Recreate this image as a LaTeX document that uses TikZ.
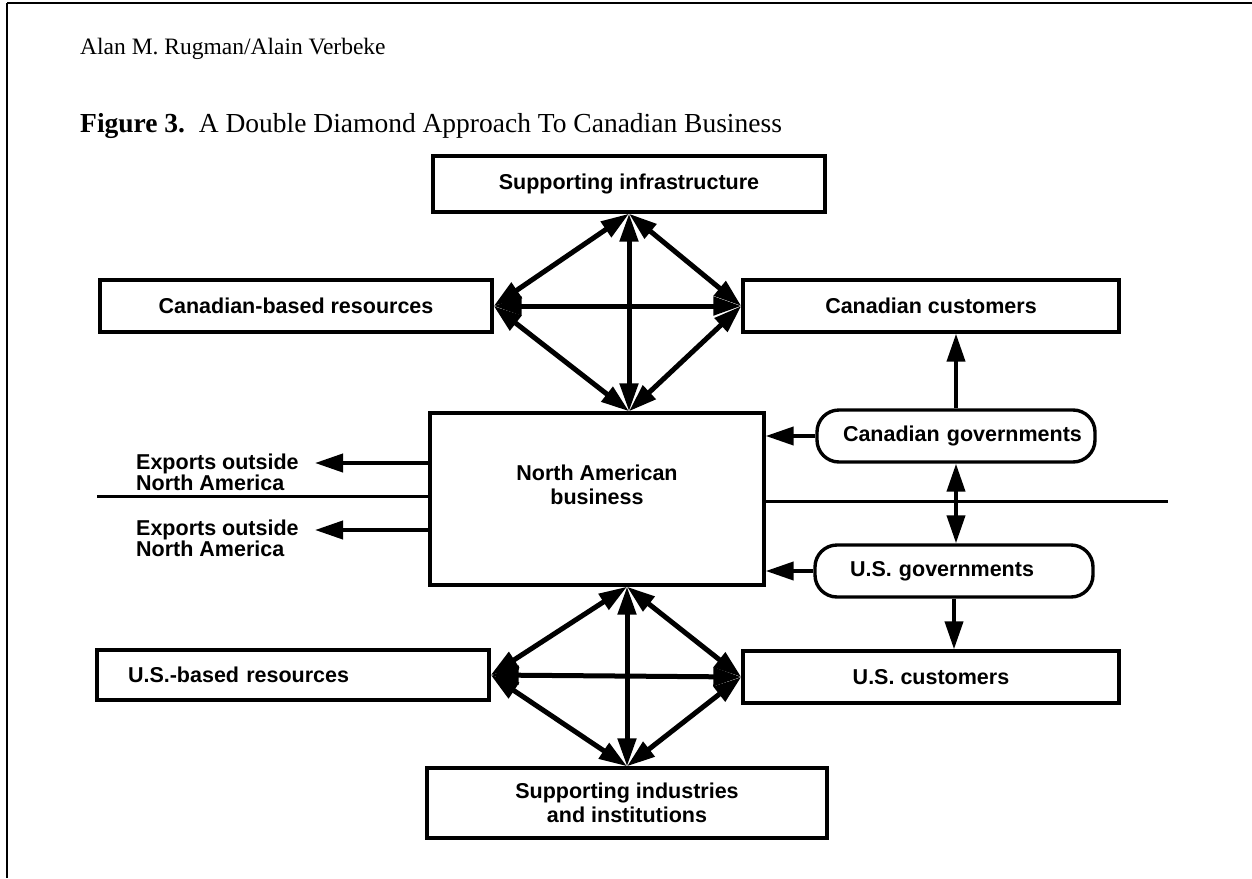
\documentclass[tikz,border=0pt]{standalone}
\usepackage{fontspec}
\setmainfont{Liberation Serif}
\newfontfamily\labfont{Liberation Sans}
\usetikzlibrary{arrows.meta,calc}
\tikzset{
  box/.style={draw, line width=3.4pt, inner sep=0pt, align=center,
    font=\labfont\bfseries\fontsize{21.5}{24}\selectfont},
  labtext/.style={inner sep=0pt, align=center,
    font=\labfont\bfseries\fontsize{21.5}{24}\selectfont},
  extext/.style={inner sep=0pt, align=left, anchor=west,
    font=\labfont\bfseries\fontsize{21.5}{21}\selectfont},
  gov/.style={box, rounded corners=22pt},
  darr/.style={line width=5pt, {Triangle[length=28pt,width=18pt]}-{Triangle[length=28pt,width=18pt]}},
  sarr/.style={line width=4pt, -{Triangle[length=28pt,width=18pt]}},
  sdarr/.style={line width=4pt, {Triangle[length=28pt,width=18pt]}-{Triangle[length=28pt,width=18pt]}},
  sepline/.style={line width=3pt},
}
\begin{document}
\begin{tikzpicture}[x=1pt,y=-1pt]
\useasboundingbox (0,0) rectangle (1252,878);
% page frame
\draw[line width=2pt] (7,3) -- (1252,3);
\draw[line width=1.6pt] (7,3) -- (7,878);
% header
\node[anchor=west, inner sep=0pt, font=\fontsize{23.5}{26}\selectfont] (author) at (80,49) {Alan M. Rugman/Alain Verbeke};
\node[anchor=west, inner sep=0pt, font=\fontsize{27.5}{29}\selectfont] (caption) at (80,126) {\textbf{Figure 3.}\ \ A Double Diamond Approach To Canadian Business};
% boxes
\node[box, minimum width=392pt, minimum height=56pt] (SI) at (629,184) {Supporting infrastructure};
\node[box, minimum width=392pt, minimum height=52pt] (CBR) at (296,306) {Canadian-based resources};
\node[box, minimum width=376pt, minimum height=52pt] (CC) at (931,306) {Canadian customers};
\node[box, minimum width=334pt, minimum height=172pt,
      label={[labtext, yshift=14pt]center:{North American\\business}}] (NAB) at (597,499) {};
\node[gov, minimum width=278pt, minimum height=52pt, text width=270pt, align=left] (CG) at (956,436) {\hspace*{22pt}\mbox{Canadian governments}};
\node[gov, minimum width=278pt, minimum height=52pt, text width=270pt, align=left] (UG) at (954,571) {\hspace*{31pt}\mbox{U.S. governments}};
\node[box, minimum width=392pt, minimum height=50pt, text width=372pt, align=left] (USR) at (293,675) {\hspace*{21pt}\mbox{U.S.-based resources}};
\node[box, minimum width=376pt, minimum height=52pt] (USC) at (931,677) {U.S. customers};
\node[box, minimum width=400pt, minimum height=70pt] (SII) at (627,803) {Supporting industries\\and institutions};
% exports
\node[extext] (ex1) at (136,472) {Exports outside\\North America};
\node[extext] (ex2) at (136,538) {Exports outside\\North America};
\coordinate (e1) at (315,463);
\coordinate (e2) at (315,530);
\draw[sarr] (e1 -| NAB.west) -- (e1);
\draw[sarr] (e2 -| NAB.west) -- (e2);
% border lines
\coordinate (hl) at (97,496);
\coordinate (hr) at (1168,501);
\draw[sepline] (hl) -- (hl -| NAB.west);
\draw[sepline] (hr -| NAB.east) -- (hr);
% governments
\draw[sarr] (CG.west) -- (CG.west -| NAB.east);
\draw[sarr] (UG.west) -- (UG.west -| NAB.east);
\draw[sarr] (CG.north) -- (CG.north |- CC.south);
\draw[sdarr] (CG.south) -- (CG.south |- UG.north);
\draw[sarr] (UG.south) -- (UG.south |- USC.north);
% upper diamond
\draw[darr] (SI.south) -- (CBR.east);
\draw[darr] (SI.south) -- (CC.west);
\draw[darr] (SI.south) -- (SI.south |- NAB.north);
\draw[darr] (CBR.east) -- (CC.west);
\draw[darr] (CBR.east) -- (SI.south |- NAB.north);
\draw[darr] (CC.west) -- (SI.south |- NAB.north);
% lower diamond
\draw[darr] (SII.north |- NAB.south) -- (USR.east);
\draw[darr] (SII.north |- NAB.south) -- (USC.west);
\draw[darr] (SII.north |- NAB.south) -- (SII.north);
\draw[darr] (USR.east) -- (USC.west);
\draw[darr] (USR.east) -- (SII.north);
\draw[darr] (USC.west) -- (SII.north);
\end{tikzpicture}
\end{document}
